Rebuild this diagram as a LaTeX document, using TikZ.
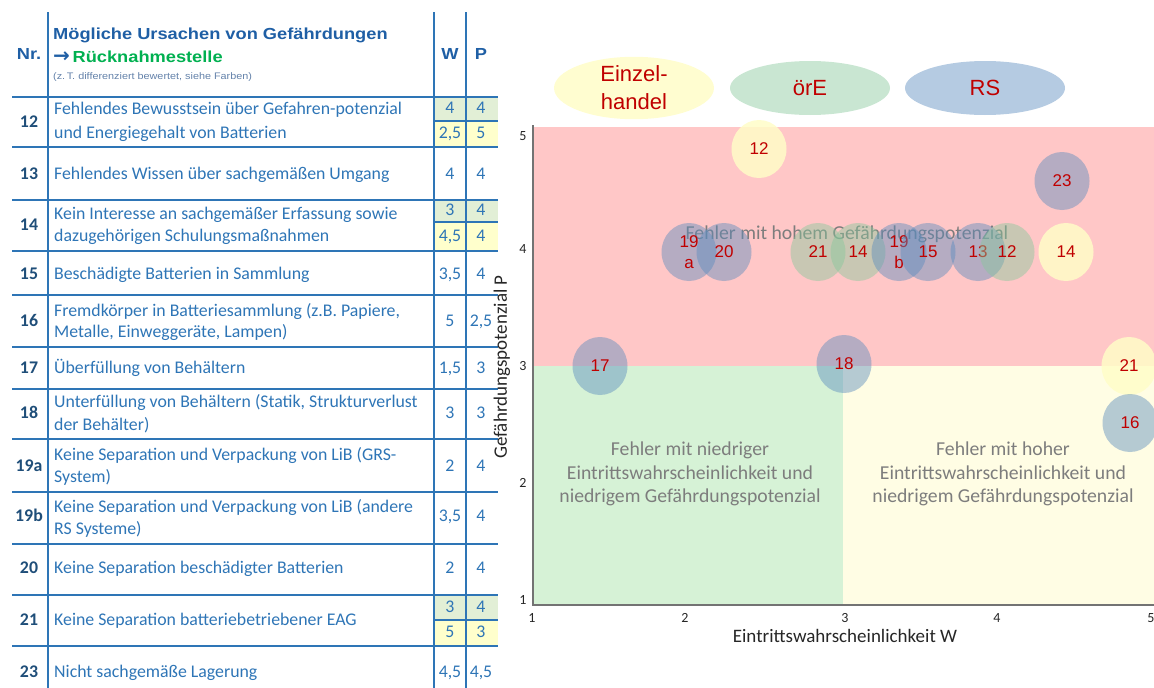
\documentclass[tikz,border=0pt]{standalone}
\usepackage{fontspec}
\setmainfont{Carlito}
\newfontfamily\hdrf[FakeStretch=1.14]{Liberation Sans}
\newfontfamily\arialf{Liberation Sans}
\newfontfamily\djv{DejaVu Sans}
\usetikzlibrary{shapes.geometric}
\definecolor{tblue}{RGB}{46,117,182}
\definecolor{tdark}{RGB}{31,78,121}
\definecolor{hblue}{RGB}{31,95,165}
\definecolor{hgreen}{RGB}{0,176,80}
\definecolor{hsm}{RGB}{100,130,170}
\definecolor{cgreen}{RGB}{226,239,214}
\definecolor{cyellow}{RGB}{255,255,204}
\definecolor{zred}{RGB}{255,199,199}
\definecolor{zgreen}{RGB}{214,242,214}
\definecolor{zyellow}{RGB}{255,253,228}
\definecolor{rsc}{RGB}{92,140,190}
\definecolor{orec}{RGB}{135,200,155}
\definecolor{ehc}{RGB}{255,253,200}
\definecolor{lred}{RGB}{192,0,0}
\definecolor{zgrey}{RGB}{125,125,125}
\begin{document}
\begin{tikzpicture}[x=1pt,y=-1pt,
  tline/.style={draw=tblue, line width=2pt},
  thin/.style={draw=tblue, line width=1.2pt},
  hdr/.style={anchor=west, inner sep=0, text=hblue, font=\hdrf\bfseries\fontsize{16}{19}\selectfont},
  hsmall/.style={anchor=west, inner sep=0, text=hsm, font=\hdrf\fontsize{9.5}{11}\selectfont},
  hdrc/.style={inner sep=0, text=hblue, font=\hdrf\bfseries\fontsize{16}{19}\selectfont},
  tt/.style={anchor=west, inner sep=0, text=tblue, text height=12, text depth=3.5, font=\fontsize{17.8}{21}\selectfont},
  nr/.style={inner sep=0, text=tdark, text height=12, text depth=3.5, font=\bfseries\fontsize{17.8}{21}\selectfont},
  val/.style={inner sep=0, text=tblue, text height=12, text depth=3.5, font=\fontsize{17.8}{21}\selectfont},
  bub/.style={ellipse, minimum width=55, minimum height=58, inner sep=0, align=center, text=lred, text opacity=1, font=\arialf\fontsize{17}{21}\selectfont},
  rs/.style={bub, fill=rsc, fill opacity=0.45},
  ore/.style={bub, fill=orec, fill opacity=0.45},
  eh/.style={bub, fill=ehc, fill opacity=0.85},
  leg/.style={ellipse, minimum width=160, minimum height=54, inner sep=0, align=center, text=lred, text opacity=1, font=\arialf\fontsize{22}{28}\selectfont},
  zone/.style={text=zgrey, align=center, font=\fontsize{19.7}{23.5}\selectfont},
  tick/.style={inner sep=0, text=black!85, font=\fontsize{14}{16}\selectfont},
  axt/.style={inner sep=0, text=black!85, font=\fontsize{19}{22}\selectfont}
]
\useasboundingbox (0,0) rectangle (1154,688);

% ---------------- table ----------------
\fill[cgreen] (435,98) rectangle (498,121);
\fill[cyellow] (435,121) rectangle (498,147);
\fill[cgreen] (435,201) rectangle (498,222);
\fill[cyellow] (435,222) rectangle (498,250);
\fill[cgreen] (435,596) rectangle (498,620);
\fill[cyellow] (435,620) rectangle (498,645);

\foreach \yy in {97,147,200,251,295,347,389,439,492,544,595,646}
  \draw[tline] (12,\yy) -- (498,\yy);
\foreach \yy in {121,222,620}
  \draw[thin] (434,\yy) -- (498,\yy);
\foreach \xx in {48,434,466}
  \draw[tline] (\xx,12) -- (\xx,688);

\node[hdr] (h1) at (53,35) {Mögliche Ursachen von Gefährdungen};
\node[hdr] (h2) at (53,57) {{\djv\bfseries\fontsize{20}{19}\selectfont →}\,\textcolor{hgreen}{Rücknahmestelle}};
\node[hsmall] (h3) at (53,77) {(z.\,T. differenziert bewertet, siehe Farben)};
\node[hdrc] (hnr) at (29,54) {Nr.};
\node[hdrc] (hw) at (450,54) {W};
\node[hdrc] (hp) at (481,54) {P};

% row 12
\node[nr] (n12) at (29,123) {12};
\node[tt] (t12a) at (54,110) {Fehlendes Bewusstsein über Gefahren-potenzial};
\node[tt] (t12b) at (54,134) {und Energiegehalt von Batterien};
\node[val] (w12a) at (450,109) {4};
\node[val] (p12a) at (481,109) {4};
\node[val] (w12b) at (450,134) {2,5};
\node[val] (p12b) at (481,134) {5};
% row 13
\node[nr] (n13) at (29,175) {13};
\node[tt] (t13) at (54,175) {Fehlendes Wissen über sachgemäßen Umgang};
\node[val] (w13) at (450,175) {4};
\node[val] (p13) at (481,175) {4};
% row 14
\node[nr] (n14) at (29,226) {14};
\node[tt] (t14a) at (54,215) {Kein Interesse an sachgemäßer Erfassung sowie};
\node[tt] (t14b) at (54,237) {dazugehörigen Schulungsmaßnahmen};
\node[val] (w14a) at (450,211) {3};
\node[val] (p14a) at (481,211) {4};
\node[val] (w14b) at (450,237) {4,5};
\node[val] (p14b) at (481,237) {4};
% row 15
\node[nr] (n15) at (29,275) {15};
\node[tt] (t15) at (54,275) {Beschädigte Batterien in Sammlung};
\node[val] (w15) at (450,275) {3,5};
\node[val] (p15) at (481,275) {4};
% row 16
\node[nr] (n16) at (29,322) {16};
\node[tt] (t16a) at (54,312) {Fremdkörper in Batteriesammlung (z.B. Papiere,};
\node[tt] (t16b) at (54,333) {Metalle, Einweggeräte, Lampen)};
\node[val] (w16) at (450,322) {5};
\node[val] (p16) at (481,322) {2,5};
% row 17
\node[nr] (n17) at (29,369) {17};
\node[tt] (t17) at (54,369) {Überfüllung von Behältern};
\node[val] (w17) at (450,369) {1,5};
\node[val] (p17) at (481,369) {3};
% row 18
\node[nr] (n18) at (29,414) {18};
\node[tt] (t18a) at (54,403) {Unterfüllung von Behältern (Statik, Strukturverlust};
\node[tt] (t18b) at (54,426) {der Behälter)};
\node[val] (w18) at (450,414) {3};
\node[val] (p18) at (481,414) {3};
% row 19a
\node[nr] (n19a) at (29,467) {19a};
\node[tt] (t19aa) at (54,456) {Keine Separation und Verpackung von LiB (GRS-};
\node[tt] (t19ab) at (54,478) {System)};
\node[val] (w19a) at (450,467) {2};
\node[val] (p19a) at (481,467) {4};
% row 19b
\node[nr] (n19b) at (29,517) {19b};
\node[tt] (t19ba) at (54,508) {Keine Separation und Verpackung von LiB (andere};
\node[tt] (t19bb) at (54,530) {RS Systeme)};
\node[val] (w19b) at (450,517) {3,5};
\node[val] (p19b) at (481,517) {4};
% row 20
\node[nr] (n20) at (29,569) {20};
\node[tt] (t20) at (54,569) {Keine Separation beschädigter Batterien};
\node[val] (w20) at (450,569) {2};
\node[val] (p20) at (481,569) {4};
% row 21
\node[nr] (n21) at (29,621) {21};
\node[tt] (t21) at (54,621) {Keine Separation batteriebetriebener EAG};
\node[val] (w21a) at (450,608) {3};
\node[val] (p21a) at (481,608) {4};
\node[val] (w21b) at (450,633) {5};
\node[val] (p21b) at (481,633) {3};
% row 23
\node[nr] (n23) at (29,673) {23};
\node[tt] (t23) at (54,673) {Nicht sachgemäße Lagerung};
\node[val] (w23) at (450,673) {4,5};
\node[val] (p23) at (481,673) {4,5};

% ---------------- chart ----------------
\fill[zred] (533,127) rectangle (1154,366);
\fill[zgreen] (533,366) rectangle (843,605);
\fill[zyellow] (843,366) rectangle (1154,605);
\draw[black!55, line width=1.2pt] (533,125) -- (533,605) -- (1154,605);

\node[tick] (y5) at (523,136) {5};
\node[tick] (y4) at (523,249) {4};
\node[tick] (y3) at (523,366) {3};
\node[tick] (y2) at (523,483) {2};
\node[tick] (y1) at (523,600) {1};
\node[tick] (x1) at (532,618) {1};
\node[tick] (x2) at (685,618) {2};
\node[tick] (x3) at (845,618) {3};
\node[tick] (x4) at (997,618) {4};
\node[tick] (x5) at (1151,618) {5};
\node[axt] (xt) at (845,636) {Eintrittswahrscheinlichkeit W};
\node[axt, rotate=90] (yt) at (502,367) {Gefährdungspotenzial P};

\node[zone] (zh) at (847,234) {Fehler mit hohem Gefährdungspotenzial};
\node[zone] (zl) at (690,474) {Fehler mit niedriger\\Eintrittswahrscheinlichkeit und\\niedrigem Gefährdungspotenzial};
\node[zone] (zr) at (1003,474) {Fehler mit hoher\\Eintrittswahrscheinlichkeit und\\niedrigem Gefährdungspotenzial};

% legend
\node[leg, fill=ehc, fill opacity=0.85] (lEH) at (634,88) {Einzel-\\handel};
\node[leg, fill=orec, fill opacity=0.45] (lOR) at (810,88) {örE};
\node[leg, fill=rsc, fill opacity=0.45] (lRS) at (985,88) {RS};

% bubbles
\node[eh] (b12y) at (759,149) {12};
\node[rs] (b23) at (1062,181) {23};
\node[rs] (b19a) at (689,252) {\fontsize{17}{20}\selectfont 19\\a};
\node[rs] (b20) at (724,252) {20};
\node[ore] (b21g) at (818,252) {21};
\node[ore] (b14g) at (858,252) {14};
\node[rs] (b19b) at (899,252) {\fontsize{17}{20}\selectfont 19\\b};
\node[rs] (b15) at (928,252) {15};
\node[rs] (b13) at (978,252) {13};
\node[ore] (b12g) at (1007,252) {12};
\node[eh] (b14y) at (1066,252) {14};
\node[rs] (b17) at (600,366) {17};
\node[rs] (b18) at (844,364) {18};
\node[eh] (b21y) at (1129,366) {21};
\node[rs] (b16) at (1130,423) {16};
\end{tikzpicture}
\end{document}
